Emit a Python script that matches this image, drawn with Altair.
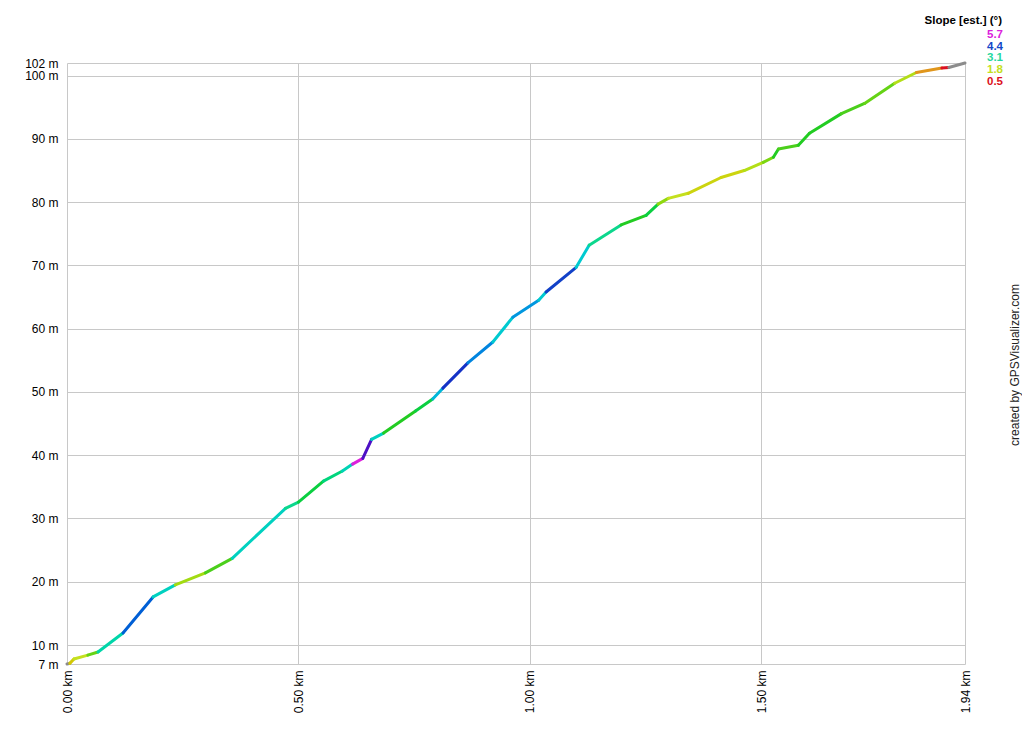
import altair as alt
import pandas as pd

# distance (km) and elevation (m) of the profile points
km = [0.000, 0.006, 0.015, 0.045, 0.067, 0.121, 0.186, 0.234, 0.299, 0.357,
      0.472, 0.500, 0.554, 0.595, 0.617, 0.639, 0.658, 0.684, 0.753, 0.790,
      0.812, 0.866, 0.920, 0.963, 1.019, 1.035, 1.100, 1.128, 1.197, 1.251,
      1.277, 1.299, 1.342, 1.413, 1.463, 1.504, 1.526, 1.537, 1.580, 1.604,
      1.673, 1.723, 1.788, 1.835, 1.890, 1.905, 1.940]
elev = [7.0, 7.1, 7.8, 8.4, 8.9, 11.9, 17.6, 19.5, 21.4, 23.7,
        31.6, 32.6, 35.9, 37.5, 38.6, 39.5, 42.5, 43.5, 47.0, 48.9,
        50.6, 54.6, 57.9, 61.8, 64.5, 65.8, 69.7, 73.2, 76.4, 77.9,
        79.7, 80.6, 81.4, 83.9, 85.0, 86.3, 87.1, 88.4, 89.0, 90.9,
        94.0, 95.6, 98.8, 100.5, 101.2, 101.3, 102.0]
# estimated slope (degrees) of each segment, -1 = no estimate (grey)
slope = [-1, 1.6, 1.8, 2.3, 3.2, 4.3, 3.4, 2.0, 2.4, 3.4,
         3.0, 2.6, 2.9, 3.3, 5.7, 5.1, 3.4, 2.5, 2.6, 3.8,
         4.7, 4.1, 3.6, 4.0, 3.6, 4.5, 3.6, 3.0, 2.5, 2.6,
         2.1, 1.8, 1.7, 1.7, 1.9, 2.2, 2.5, 2.4, 2.5, 2.5,
         2.4, 2.3, 1.9, 1.2, 0.5, -1]

x_ticks = [0.0, 0.5, 1.0, 1.5, 1.94]
y_ticks = [7, 10, 20, 30, 40, 50, 60, 70, 80, 90, 100, 102]
legend_values = [5.7, 4.4, 3.1, 1.8, 0.5]
legend_title = "Slope [est.] (°)"
credit = "created by GPSVisualizer.com"

FONT = "Liberation Sans"

seg = pd.DataFrame({
    "x": km[:-1], "x2": km[1:],
    "y": elev[:-1], "y2": elev[1:],
    "s": slope,
})

color_scale = alt.Scale(
    domain=[-1, 0, 0.5, 1.2, 1.8, 2.5, 3.1, 3.7, 4.4, 5.0, 5.7],
    range=["#8c8c8c", "#8c8c8c", "#dc1020", "#e0961c", "#c4e01e", "#22cc22",
           "#26d89c", "#22c6d6", "#1448c8", "#2212c0", "#dc20dc"],
)

x_scale = alt.Scale(domain=[0, 1.94], nice=False, zero=False)
y_scale = alt.Scale(domain=[7, 102], nice=False, zero=False)

lines = alt.Chart(seg).mark_rule(strokeWidth=3, strokeCap="round").encode(
    x=alt.X("x:Q", scale=x_scale, title=None,
            axis=alt.Axis(values=x_ticks, labelExpr="format(datum.value, '.2f') + ' km'",
                          labelAngle=270, labelPadding=6, grid=True, gridColor="#c8c8c8",
                          ticks=False, domain=False, labelFont=FONT, labelFontSize=12,
                          labelColor="#000000", labelOverlap=False, labelBound=False,
                          labelFlush=False)),
    x2="x2:Q",
    y=alt.Y("y:Q", scale=y_scale, title=None,
            axis=alt.Axis(values=y_ticks, labelExpr="datum.value + ' m'",
                          labelPadding=9, grid=True, gridColor="#c8c8c8",
                          ticks=False, domain=False, labelFont=FONT, labelFontSize=12,
                          labelColor="#000000", labelOverlap=False, labelBound=False,
                          labelFlush=False)),
    y2="y2:Q",
    color=alt.Color("s:Q", scale=color_scale, legend=None),
)

layers = [lines]

title_txt = alt.Chart(pd.DataFrame({"t": [legend_title]})).mark_text(
    align="right", baseline="middle", font=FONT, fontSize=11.5, fontWeight="bold",
    color="#000000",
).encode(text="t:N", x=alt.value(935), y=alt.value(-42))
layers.append(title_txt)

for i, v in enumerate(legend_values):
    t = alt.Chart(pd.DataFrame({"s": [v], "t": [f"{v:.1f}"]})).mark_text(
        align="right", baseline="middle", font=FONT, fontSize=11.5, fontWeight="bold",
    ).encode(
        text="t:N",
        x=alt.value(936),
        y=alt.value(-28 + i * 11.7),
        color=alt.Color("s:Q", scale=color_scale, legend=None),
    )
    layers.append(t)

credit_txt = alt.Chart(pd.DataFrame({"t": [credit]})).mark_text(
    align="center", baseline="middle", font=FONT, fontSize=12, angle=270,
    color="#222222",
).encode(text="t:N", x=alt.value(948), y=alt.value(302))
layers.append(credit_txt)

chart = alt.layer(*layers).properties(
    width=898, height=601,
    autosize=alt.AutoSizeParams(type="none"),
    padding={"left": 59, "top": 55, "right": 57, "bottom": 58},
    background="#ffffff",
).configure_view(stroke=None)

chart.save("out.html", embed_options={"renderer": "svg", "actions": False})
